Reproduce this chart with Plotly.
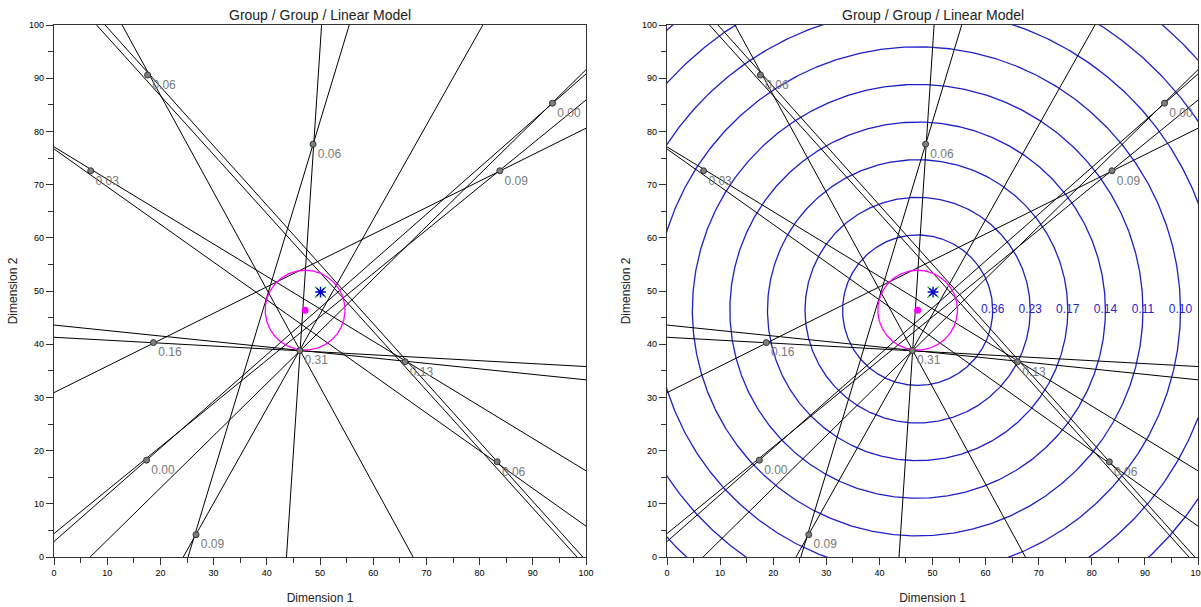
import numpy as np
import plotly.graph_objects as go

# ---- data ----
# black lines, as endpoints on the plot border
line_x0 = [8.0, 9.6, 12.8, 0.0, 0.0, 50.3, 55.5, 80.6, 0.0, 0.0, 0.0, 0.0, 0.0, 6.8]
line_y0 = [100, 100, 100, 77.1, 76.7, 100, 100, 100, 43.6, 41.3, 30.9, 2.9, 4.4, 0.0]
line_x1 = [98.3, 99.4, 67.5, 100, 100, 43.7, 25.2, 24.3, 100, 100, 100, 100, 100, 100]
line_y1 = [0.0, 0.0, 0.0, 16.2, 5.8, 0.0, 0.0, 0.0, 33.3, 35.8, 80.6, 90.8, 85.9, 91.6]

# labelled points
pt_x = [17.6, 6.9, 48.7, 93.7, 83.8, 18.7, 17.4, 26.7, 46.2, 66.0, 83.3]
pt_y = [90.6, 72.6, 77.6, 85.3, 72.6, 40.3, 18.2, 4.2, 38.8, 36.7, 17.9]
pt_labels = ["0.06", "0.03", "0.06", "0.00", "0.09", "0.16", "0.00", "0.09", "0.31", "0.13", "0.06"]

# ideal point (magenta) with its circle, and the asterisk point
ideal_x, ideal_y, ideal_r = 47.2, 46.4, 7.5
star_x, star_y = 50.1, 49.8

# contour circles in the right panel
contour_r = [14.14, 21.21, 28.28, 35.36, 42.43, 49.50, 56.57, 63.64, 70.71]
contour_labels = ["0.36", "0.23", "0.17", "0.14", "0.11", "0.10"]

title_text = "Group / Group / Linear Model"

# ---- figure ----
fig = go.Figure()
W, H = 1201, 607
xdom = [[54 / W, 586 / W], [667 / W, 1198 / W]]
ydom = [50 / H, 582 / H]

theta = np.linspace(0, 2 * np.pi, 721)

for p, (xa, ya) in enumerate([("x", "y"), ("x2", "y2")]):
    # contour circles (right panel only)
    if p == 1:
        for r in contour_r:
            fig.add_trace(go.Scatter(x=ideal_x + r * np.cos(theta), y=ideal_y + r * np.sin(theta),
                                     mode="lines", line=dict(color="#1f1fc8", width=1.3),
                                     hoverinfo="skip", showlegend=False, xaxis=xa, yaxis=ya))
        fig.add_trace(go.Scatter(x=[ideal_x + r for r in contour_r[:len(contour_labels)]],
                                 y=[ideal_y] * len(contour_labels), mode="text",
                                 text=contour_labels, textposition="middle center",
                                 textfont=dict(family="Arial", size=12, color="#2626c8"),
                                 cliponaxis=False, showlegend=False, xaxis=xa, yaxis=ya))
    # black lines
    for i in range(len(line_x0)):
        fig.add_trace(go.Scatter(x=[line_x0[i], line_x1[i]], y=[line_y0[i], line_y1[i]],
                                 mode="lines", line=dict(color="black", width=1),
                                 hoverinfo="skip", showlegend=False, xaxis=xa, yaxis=ya))
    # magenta circle and point
    fig.add_trace(go.Scatter(x=ideal_x + ideal_r * np.cos(theta), y=ideal_y + ideal_r * np.sin(theta),
                             mode="lines", line=dict(color="#ff00ff", width=1.3),
                             showlegend=False, xaxis=xa, yaxis=ya))
    fig.add_trace(go.Scatter(x=[ideal_x], y=[ideal_y], mode="markers",
                             marker=dict(color="#ff00ff", size=7),
                             showlegend=False, xaxis=xa, yaxis=ya))
    # asterisk
    fig.add_trace(go.Scatter(x=[star_x], y=[star_y], mode="markers",
                             marker=dict(symbol="x-thin-open", size=11, color="#00b000",
                                         line=dict(color="#00b000", width=1.2)),
                             showlegend=False, xaxis=xa, yaxis=ya))
    fig.add_trace(go.Scatter(x=[star_x], y=[star_y], mode="markers",
                             marker=dict(symbol="asterisk-open", size=9, color="#0000d0",
                                         line=dict(color="#0000d0", width=1.4)),
                             showlegend=False, xaxis=xa, yaxis=ya))
    # labelled points
    fig.add_trace(go.Scatter(x=pt_x, y=pt_y, mode="markers+text", text=pt_labels,
                             textposition="bottom right",
                             textfont=dict(family="Arial", size=12, color="#7a7a7a"),
                             marker=dict(color="#7f7f7f", size=6, line=dict(color="#333333", width=1)),
                             cliponaxis=False, showlegend=False, xaxis=xa, yaxis=ya))

axis_common = dict(range=[0, 100], showgrid=False, zeroline=False, showline=True,
                   linecolor="#333333", linewidth=1.2, mirror=True, automargin=False,
                   ticks="outside", tickcolor="#333333", ticklen=7, tickwidth=1,
                   dtick=10, tick0=0, ticklabeloverflow="allow",
                   tickfont=dict(family="Arial", size=9, color="black"),
                   minor=dict(dtick=5, ticks="outside", ticklen=5, tickcolor="#333333"),
                   fixedrange=True)

layout = dict(
    width=W, height=H, margin=dict(l=0, r=0, t=0, b=0, autoexpand=False),
    paper_bgcolor="white", plot_bgcolor="white", showlegend=False,
)
for p in range(2):
    sx = "" if p == 0 else "2"
    layout["xaxis" + sx] = dict(axis_common, domain=xdom[p], anchor="y" + sx,
                                title=dict(text="Dimension 1", standoff=16,
                                           font=dict(family="Arial", size=12, color="#222")))
    layout["yaxis" + sx] = dict(axis_common, domain=ydom, anchor="x" + sx,
                                title=dict(text="Dimension 2", standoff=8,
                                           font=dict(family="Arial", size=12, color="#222")))
fig.update_layout(**layout)

for p in range(2):
    fig.add_annotation(x=(xdom[p][0] + xdom[p][1]) / 2, y=1 - 15 / H, xref="paper", yref="paper",
                       text=title_text, showarrow=False, xanchor="center", yanchor="middle",
                       font=dict(family="Arial", size=14, color="#222"))

fig.write_html("out.html")
